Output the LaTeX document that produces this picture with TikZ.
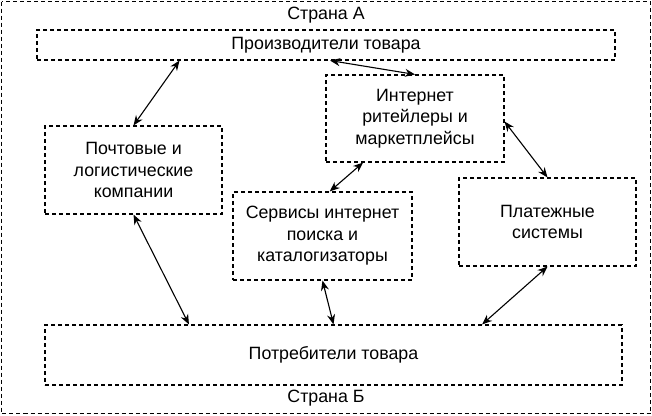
\documentclass[tikz,border=0pt]{standalone}
\usepackage{fontspec}
\setmainfont{Liberation Sans}
\usetikzlibrary{arrows.meta,calc}

\tikzset{
  box/.style={draw,dashed,dash pattern=on 4pt off 3pt,line width=1.1pt,
    align=center,inner sep=0pt},
  link/.style={{Stealth[length=10pt,width=8pt]}-{Stealth[length=10pt,width=8pt]},line width=1.1pt}
}

\begin{document}
\begin{tikzpicture}[x=1pt,y=-1pt,font=\fontsize{17.8}{21.5}\selectfont]
    \useasboundingbox (0,0) rectangle (652,415);
    \draw[dashed,dash pattern=on 4pt off 3pt,line width=1.1pt] (1.5,1.5) rectangle (650.5,413.5);
    \node (countryA) at (326,15) {Страна А};
    \node (countryB) at (326,398) {Страна Б};
    % boxes
    \node[box,minimum width=578pt,minimum height=30pt] (prod) at (326,45) {Производители товара};
    \node[box,minimum width=178pt,minimum height=87pt] (inet) at (415,118.5) {Интернет\\ритейлеры и\\маркетплейсы};
    \node[box,minimum width=177pt,minimum height=88pt] (post) at (133.5,170) {Почтовые и\\логистические\\компании};
    \node[box,minimum width=179pt,minimum height=88pt] (serv) at (322.5,236) {Сервисы интернет\\поиска и\\каталогизаторы};
    \node[box,minimum width=177pt,minimum height=88pt] (pay) at (547.5,222) {Платежные\\системы};
    \node[box,minimum width=577pt,minimum height=60pt] (cons) at (333.5,355) {Потребители товара};
    % links
    \draw[link] ($(prod.south west)!0.247!(prod.south east)$) -- (post.north);
    \draw[link] ($(prod.south west)!0.507!(prod.south east)$) -- (inet.north);
    \draw[link] ($(inet.south west)!0.21!(inet.south east)$) -- ($(serv.north west)!0.54!(serv.north east)$);
    \draw[link] ($(inet.east)+(0,3)$) -- (pay.north);
    \draw[link] (post.south) -- ($(cons.north west)!0.25!(cons.north east)$);
    \draw[link] (serv.south) -- (cons.north);
    \draw[link] (pay.south) -- ($(cons.north west)!0.757!(cons.north east)$);
\end{tikzpicture}
\end{document}
